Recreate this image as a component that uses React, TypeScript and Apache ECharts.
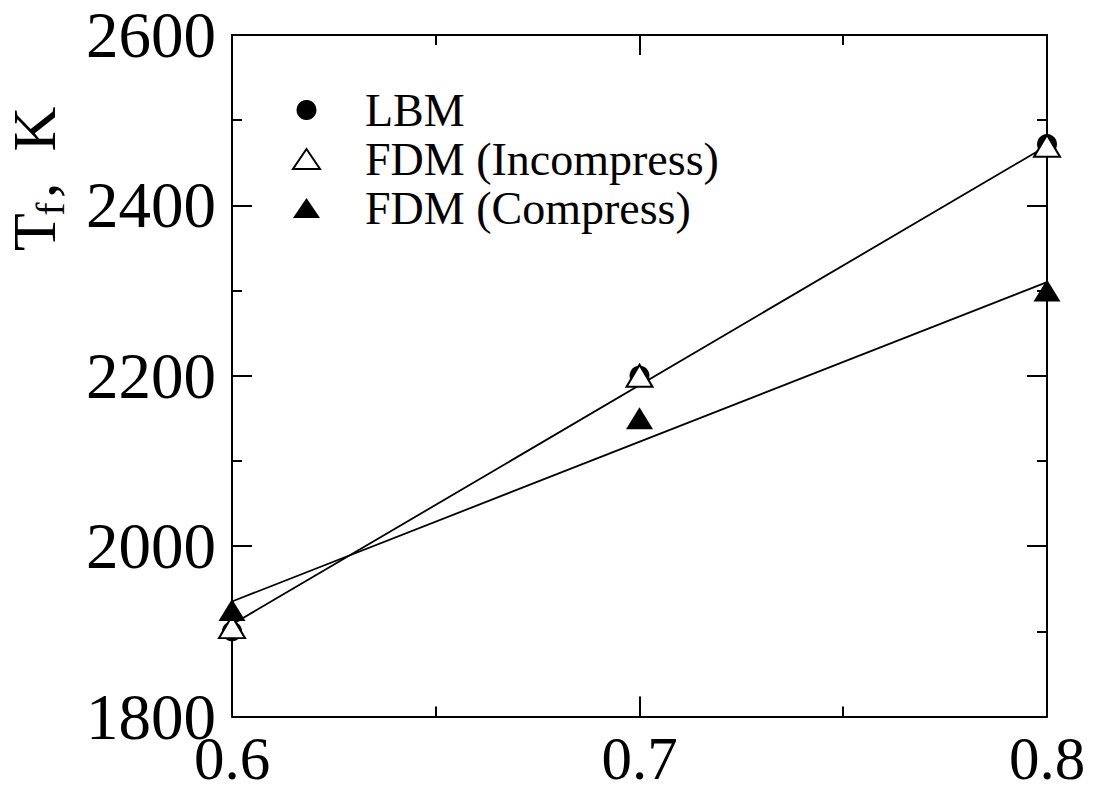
import React, { useEffect, useRef } from "react";
import * as echarts from "echarts";

const lbm = [
  [0.6, 1900],
  [0.7, 2200],
  [0.8, 2472],
];
const fdmIncomp = [
  [0.6, 1905],
  [0.7, 2200],
  [0.8, 2470],
];
const fdmComp = [
  [0.6, 1925],
  [0.7, 2150],
  [0.8, 2300],
];
const fitIncomp = [
  [0.6, 1908],
  [0.8, 2470],
];
const fitComp = [
  [0.6, 1935],
  [0.8, 2310],
];
const legendNames = ["LBM", "FDM (Incompress)", "FDM (Compress)"];

const FONT = "Liberation Serif";

export default function App() {
  const ref = useRef<HTMLDivElement>(null);
  useEffect(() => {
    if (!ref.current) return;
    const chart = echarts.init(ref.current, undefined, { renderer: "svg" });
    const axisCommon = {
      axisLine: { show: true, lineStyle: { color: "#000", width: 2 } },
      axisTick: { show: true, inside: true, length: 20, lineStyle: { color: "#000", width: 2 } },
      minorTick: { show: true, splitNumber: 2, length: 10, lineStyle: { color: "#000", width: 2 } },
      splitLine: { show: false },
    };
    chart.setOption({
      animation: false,
      backgroundColor: "#fff",
      grid: { left: 232, right: 46, top: 35, bottom: 72, containLabel: false },
      xAxis: [
        {
          type: "value",
          min: 0.6,
          max: 0.8,
          interval: 0.1,
          position: "bottom",
          ...axisCommon,
          axisLabel: {
            show: true,
            margin: 22,
            fontSize: 61,
            lineHeight: 40,
            fontFamily: FONT,
            color: "#000",
            formatter: (v: number) => v.toFixed(1),
          },
        },
        {
          type: "value",
          min: 0.6,
          max: 0.8,
          interval: 0.1,
          position: "top",
          ...axisCommon,
          axisLabel: { show: false },
        },
      ],
      yAxis: [
        {
          type: "value",
          min: 1800,
          max: 2600,
          interval: 200,
          position: "left",
          ...axisCommon,
          axisLabel: {
            show: true,
            margin: 16,
            fontSize: 65,
            fontFamily: FONT,
            color: "#000",
            formatter: (v: number) => String(v),
          },
        },
        {
          type: "value",
          min: 1800,
          max: 2600,
          interval: 200,
          position: "right",
          ...axisCommon,
          axisLabel: { show: false },
        },
      ],
      legend: {
        orient: "vertical",
        left: 287,
        top: 82,
        itemWidth: 27,
        itemHeight: 20,
        itemGap: 3,
        data: legendNames,
        textStyle: {
          fontSize: 46,
          fontFamily: FONT,
          color: "#000",
          padding: [0, 0, 0, 40],
        },
      },
      series: [
        {
          name: "fitIncomp",
          type: "line",
          data: fitIncomp,
          symbol: "none",
          lineStyle: { color: "#000", width: 1.8 },
          z: 2,
        },
        {
          name: "fitComp",
          type: "line",
          data: fitComp,
          symbol: "none",
          lineStyle: { color: "#000", width: 1.8 },
          z: 2,
        },
        {
          name: legendNames[0],
          type: "scatter",
          data: lbm,
          symbol: "circle",
          symbolSize: 20,
          itemStyle: { color: "#000", opacity: 1 },
          z: 3,
        },
        {
          name: legendNames[1],
          type: "scatter",
          data: fdmIncomp,
          symbol: "triangle",
          symbolSize: [26, 22],
          itemStyle: { color: "#fff", borderColor: "#000", borderWidth: 2, opacity: 1 },
          z: 4,
        },
        {
          name: legendNames[2],
          type: "scatter",
          data: fdmComp,
          symbol: "triangle",
          symbolSize: [27, 22],
          itemStyle: { color: "#000", opacity: 1 },
          z: 5,
        },
      ],
      graphic: [
        {
          type: "text",
          x: 34,
          y: 232,
          rotation: Math.PI / 2,
          style: {
            text: "T",
            fontSize: 62,
            fontFamily: FONT,
            fill: "#000",
            align: "center",
            verticalAlign: "middle",
          },
        },
        {
          type: "text",
          x: 50,
          y: 209,
          rotation: Math.PI / 2,
          style: {
            text: "f",
            fontSize: 40,
            fontFamily: FONT,
            fill: "#000",
            align: "center",
            verticalAlign: "middle",
          },
        },
        {
          type: "text",
          x: 34,
          y: 198,
          rotation: Math.PI / 2,
          style: {
            text: ",  K",
            fontSize: 62,
            fontFamily: FONT,
            fill: "#000",
            align: "left",
            verticalAlign: "middle",
          },
        },
      ],
    });
    return () => chart.dispose();
  }, []);
  return (
    <div
      ref={ref}
      style={{ position: "fixed", left: 0, top: 0, width: 1093, height: 789, background: "#fff" }}
    />
  );
}
